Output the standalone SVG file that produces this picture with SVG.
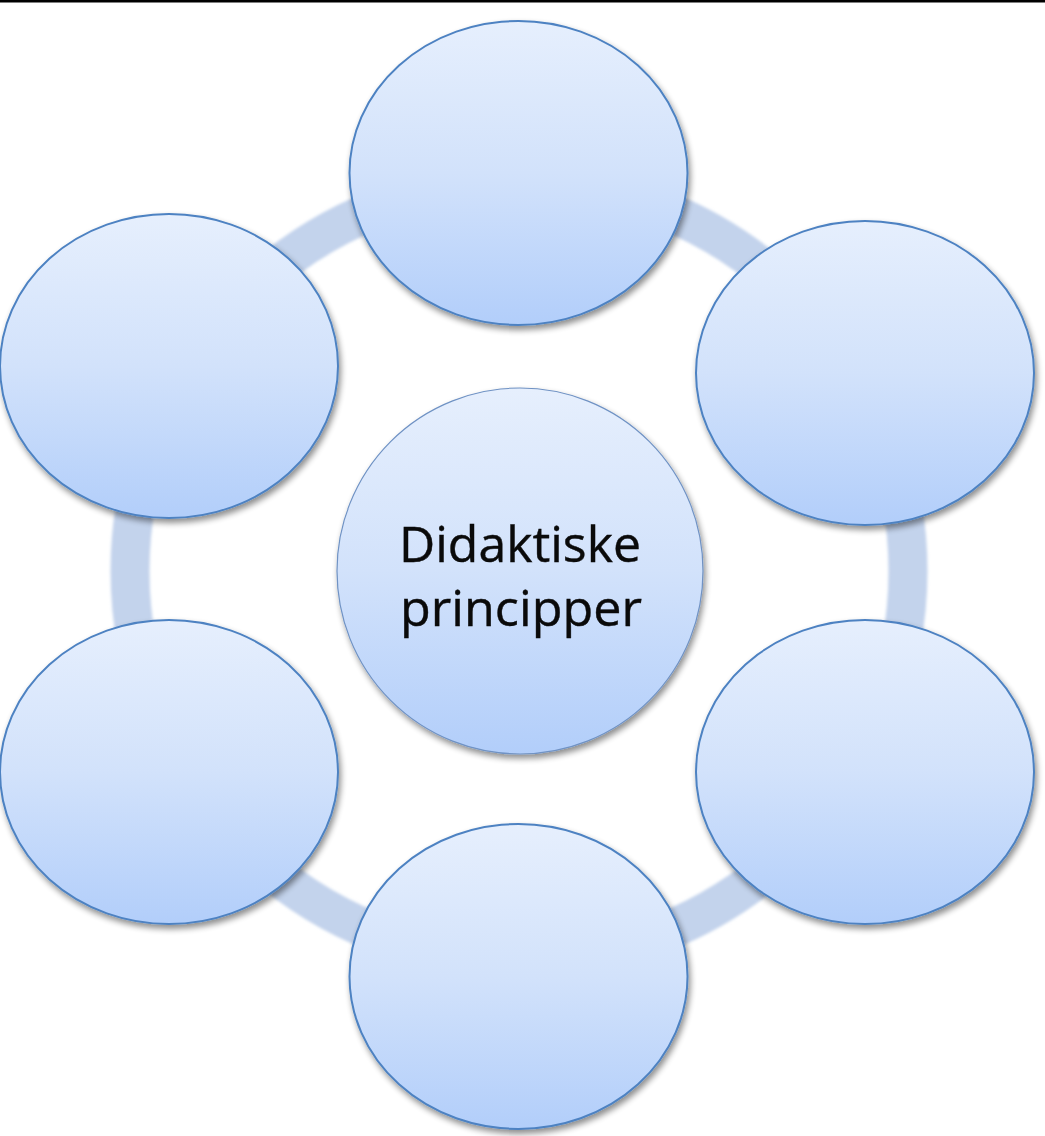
<svg xmlns="http://www.w3.org/2000/svg" width="1045" height="1136" viewBox="0 0 1045 1136">
  <defs>
    <linearGradient id="g" x1="0" y1="0" x2="0" y2="1">
      <stop offset="0" stop-color="#e6effd"/>
      <stop offset="0.5" stop-color="#d2e2fb"/>
      <stop offset="1" stop-color="#b2cefa"/>
    </linearGradient>
    <filter id="sh" x="-10%" y="-10%" width="120%" height="125%">
      <feGaussianBlur in="SourceAlpha" stdDeviation="3"/>
      <feOffset dx="2" dy="4" result="b"/>
      <feComponentTransfer><feFuncA type="linear" slope="0.45"/></feComponentTransfer>
      <feMerge><feMergeNode/><feMergeNode in="SourceGraphic"/></feMerge>
    </filter>
    <filter id="glow" x="-10%" y="-10%" width="120%" height="120%">
      <feGaussianBlur stdDeviation="1.5"/>
    </filter>
  </defs>
  <style>
    .n { fill: url(#g); stroke: #4d82c2; stroke-width: 2; filter: url(#sh); }
    .c { fill: url(#g); stroke: #6f92c4; stroke-width: 1.2; filter: url(#sh); }
    .t { font-family: "Open Sans", "Noto Sans", sans-serif; font-size: 50px; fill: #0a0a0a; text-anchor: middle; stroke: #0a0a0a; stroke-width: 0.4; }
  </style>
  <rect x="0" y="0" width="1045" height="1136" fill="#ffffff"/>
  <rect x="0" y="0" width="1045" height="2.5" fill="#000"/>
  <g id="connectors">
    <circle cx="519" cy="571" r="389" fill="none" stroke="#c3d3ec" stroke-width="39" filter="url(#glow)"/>
  </g>
  <g id="node-center">
    <circle class="c" cx="520" cy="571" r="183"/>
    <text class="t" x="520" y="562" textLength="242" lengthAdjust="spacingAndGlyphs">Didaktiske</text>
    <text class="t" x="521" y="626" textLength="242" lengthAdjust="spacingAndGlyphs">principper</text>
  </g>
  <g id="node-top"><ellipse class="n" cx="518.5" cy="173" rx="169" ry="152"/></g>
  <g id="node-upper-right"><ellipse class="n" cx="865" cy="373" rx="169" ry="152"/></g>
  <g id="node-lower-right"><ellipse class="n" cx="865" cy="772" rx="169" ry="152"/></g>
  <g id="node-bottom"><ellipse class="n" cx="518.5" cy="976.5" rx="169" ry="152.5"/></g>
  <g id="node-lower-left"><ellipse class="n" cx="169" cy="772" rx="169" ry="152"/></g>
  <g id="node-upper-left"><ellipse class="n" cx="169" cy="366" rx="169" ry="152"/></g>
</svg>
